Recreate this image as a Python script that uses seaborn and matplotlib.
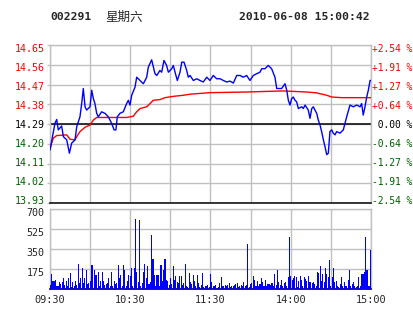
import matplotlib
matplotlib.use("Agg")
import matplotlib.pyplot as plt
import matplotlib.transforms as mtransforms
import numpy as np
import pandas as pd
import seaborn as sns

# ---------------- data ----------------
stock_code = "002291"
weekday = "星期六"
timestamp = "2010-06-08 15:00:42"
pre_close = 14.29

price_labels = ["14.65", "14.56", "14.47", "14.38", "14.29", "14.20", "14.11", "14.02", "13.93"]
pct_labels = ["+2.54 %", "+1.91 %", "+1.27 %", "+0.64 %", " 0.00 %", "-0.64 %", "-1.27 %", "-1.91 %", "-2.54 %"]
time_labels = ["09:30", "", "10:30", "", "11:30", "", "14:00", "", "15:00"]
vol_labels = ["175", "350", "525", "700"]
vol_ticks = [175, 350, 525, 700]

blue_min = [0, 3.7, 5, 6.2, 8.7, 10, 12.5, 14.5, 16.2, 18.7,
            20, 22.4, 23.7, 24.9, 26.2, 27.4, 29.9, 31.2, 32.4, 33.6,
            34.9, 36.1, 38.6, 41.1, 43.6, 46.1, 47.9, 49.3, 50.3, 52.3,
            54.8, 57.3, 58.6, 59.8, 61.1, 63.6, 64.8, 67.3, 69.8, 72.3,
            73.5, 76, 78.5, 79.8, 82.2, 83.5, 85.2, 87.2, 88.5, 91,
            92.2, 93.5, 95.2, 97.2, 98.5, 100.2, 102.2, 103.4, 104.7, 107.2,
            109.7, 112.1, 114.6, 117.2, 119.6, 122.1, 124.6, 127.1, 129.6, 132.1,
            134.6, 137.1, 139.6, 142.1, 144.5, 147, 149.5, 152, 154.5, 157,
            158.3, 160.7, 163.2, 165.7, 168.2, 169.5, 173.2, 175.7, 177, 178.2,
            179.4, 180.7, 181.9, 183.2, 184.4, 185.7, 188.2, 189.4, 190.7, 193.1,
            194.4, 195.7, 196.9, 198.1, 199.4, 200.6, 201.9, 203.1, 204.4, 205.6,
            206.9, 208.1, 209.3, 210.6, 211.8, 213.1, 214.3, 216.8, 219.3, 221.8,
            224.3, 226.8, 229.3, 231.8, 233, 234.2, 235.5, 236.8, 238, 239.3,
            240]
blue_price = [14.17, 14.293, 14.311, 14.263, 14.281, 14.232, 14.217, 14.156, 14.202, 14.217,
              14.278, 14.323, 14.384, 14.453, 14.369, 14.354, 14.369, 14.445, 14.407, 14.384,
              14.339, 14.323, 14.346, 14.339, 14.323, 14.293, 14.263, 14.263, 14.323, 14.339,
              14.346, 14.384, 14.399, 14.377, 14.422, 14.46, 14.505, 14.49, 14.475, 14.505,
              14.551, 14.585, 14.521, 14.513, 14.536, 14.528, 14.582, 14.559, 14.528, 14.544,
              14.559, 14.528, 14.49, 14.528, 14.574, 14.574, 14.536, 14.505, 14.513, 14.49,
              14.498, 14.49, 14.483, 14.505, 14.49, 14.513, 14.498, 14.498, 14.49, 14.483,
              14.487, 14.478, 14.513, 14.513, 14.505, 14.513, 14.49, 14.513, 14.521, 14.528,
              14.544, 14.544, 14.559, 14.544, 14.505, 14.453, 14.453, 14.475, 14.445, 14.399,
              14.377, 14.407, 14.414, 14.399, 14.392, 14.361, 14.369, 14.361, 14.377, 14.354,
              14.316, 14.361, 14.369, 14.354, 14.339, 14.308, 14.285, 14.255, 14.217, 14.186,
              14.149, 14.156, 14.255, 14.263, 14.248, 14.24, 14.255, 14.248, 14.263, 14.323,
              14.377, 14.369, 14.377, 14.369, 14.384, 14.331, 14.369, 14.414, 14.445, 14.49,
              14.49]

avg_min = [0, 2.5, 5, 12.5, 15, 18.7, 20, 22.4, 26.2, 29.9, 32.4, 34.9, 57.3, 62.3, 64.8,
           67.3, 72.3, 74.8, 77.2, 82.2, 86, 92.2, 99.7, 104.7, 119.6, 147, 174.4, 191.9,
           199.4, 206.9, 210.6, 218.1, 240]
avg_price = [14.179, 14.225, 14.237, 14.24, 14.22, 14.217, 14.232, 14.255, 14.275, 14.285,
             14.308, 14.32, 14.32, 14.326, 14.346, 14.361, 14.369, 14.384, 14.399, 14.402,
             14.411, 14.417, 14.422, 14.427, 14.434, 14.437, 14.442, 14.437, 14.433, 14.422,
             14.414, 14.411, 14.411]

volume = [38, 132, 74, 74, 82, 29, 29, 59, 44, 65,
          100, 35, 74, 29, 100, 141, 15, 65, 29, 74,
          35, 220, 53, 100, 182, 53, 100, 162, 44, 53,
          74, 206, 212, 162, 126, 126, 153, 29, 74, 153,
          74, 35, 41, 53, 94, 29, 153, 29, 74, 44,
          53, 212, 94, 123, 29, 212, 162, 29, 74, 123,
          118, 185, 29, 182, 611, 147, 60, 603, 29, 53,
          153, 220, 94, 197, 44, 60, 476, 259, 123, 29,
          123, 123, 29, 206, 74, 162, 259, 82, 74, 35,
          94, 44, 197, 82, 118, 59, 53, 112, 112, 35,
          53, 220, 29, 15, 141, 65, 44, 123, 74, 29,
          123, 53, 15, 35, 141, 15, 24, 24, 35, 15,
          132, 59, 24, 29, 35, 6, 20, 53, 103, 29,
          24, 35, 29, 35, 53, 15, 29, 24, 35, 44,
          53, 15, 29, 35, 29, 65, 29, 35, 397, 15,
          44, 53, 118, 82, 29, 74, 24, 44, 94, 59,
          29, 82, 29, 44, 44, 35, 53, 24, 132, 35,
          162, 65, 35, 82, 29, 53, 65, 29, 103, 453,
          112, 82, 94, 112, 103, 15, 74, 112, 82, 29,
          103, 88, 74, 112, 65, 65, 53, 59, 44, 24,
          147, 141, 197, 74, 132, 59, 188, 132, 103, 250,
          29, 103, 182, 65, 74, 29, 15, 44, 103, 24,
          65, 29, 24, 82, 170, 29, 44, 59, 29, 15,
          29, 103, 24, 132, 132, 153, 453, 162, 29, 29,
          338]
vol_minutes = list(range(len(volume)))

# ---------------- style ----------------
sns.set_theme(style="white")
plt.rcParams["font.family"] = ["DejaVu Sans Mono", "Noto Sans CJK SC"]

RED = "#ff0000"
GREEN = "#006000"
BLUE = "#0000ff"
GRID = "#c0c0c0"
FS_L = 7.2
FS_R = 6.9

W, H = 414, 314
fig = plt.figure(figsize=(W / 100, H / 100), dpi=100)
fig.patch.set_facecolor("white")


def shift(px):
    return mtransforms.ScaledTranslation(0, px / 100, fig.dpi_scale_trans)


L, R = 50, 371
ax = fig.add_axes([L / W, 1 - 203 / H, (R - L) / W, 158 / H])
axv = fig.add_axes([L / W, 1 - 289 / H, (R - L) / W, 80 / H])

# ---------------- price panel ----------------
half = pre_close * 0.0254
ax.set_xlim(0, 240)
ax.set_ylim(pre_close - half, pre_close + half)
yt = [pre_close + half - i * half / 4 for i in range(9)]
ax.set_yticks(yt)
ax.set_yticklabels(price_labels)
ax.set_xticks(range(0, 241, 30))
ax.grid(True, color=GRID, lw=1)
ax.axhline(pre_close, color="black", lw=1.1, zorder=2)

sns.lineplot(x=avg_min, y=avg_price, color=RED, lw=1.0, ax=ax, estimator=None, zorder=3)
sns.lineplot(x=blue_min, y=blue_price, color=BLUE, lw=1.0, ax=ax, estimator=None, zorder=4)
ax.set_xlabel("")
ax.set_ylabel("")
ax.tick_params(axis="x", length=0, labelbottom=False)
ax.tick_params(axis="y", length=2, width=1, color=GRID, pad=2, labelsize=FS_L)
for s in ["left", "right", "top"]:
    ax.spines[s].set_color(GRID)
    ax.spines[s].set_linewidth(1)
ax.spines["bottom"].set_color("black")
ax.spines["bottom"].set_linewidth(1.1)

ax2 = ax.twinx()
ax2.set_ylim(ax.get_ylim())
ax2.set_yticks(yt)
ax2.set_yticklabels(pct_labels)
ax2.tick_params(axis="y", length=0, pad=0.5, labelsize=FS_R)
for s in ax2.spines.values():
    s.set_visible(False)

for axis_obj, which in ((ax, "label1"), (ax2, "label2")):
    for i, tk in enumerate(axis_obj.yaxis.get_major_ticks()):
        lab = getattr(tk, which)
        lab.set_color(RED if i < 4 else ("black" if i == 4 else GREEN))
        lab.set_transform(lab.get_transform() + shift((i - 4) * 0.8))

# ---------------- volume panel ----------------
vdf = pd.DataFrame({"minute": vol_minutes, "volume": volume})
sns.barplot(data=vdf, x="minute", y="volume", native_scale=True, color=BLUE,
            saturation=1, width=0.8, linewidth=0, errorbar=None, ax=axv, zorder=3)
axv.set_xlim(0, 240)
axv.set_ylim(0, 700)
axv.set_yticks(vol_ticks)
axv.set_yticklabels(vol_labels)
axv.set_xticks(range(0, 241, 30))
axv.set_xticklabels(time_labels)
axv.grid(True, color=GRID, lw=1, zorder=0)
axv.set_axisbelow(True)
axv.set_xlabel("")
axv.set_ylabel("")
axv.tick_params(axis="y", length=2, width=1, color=GRID, pad=2, labelsize=FS_L)
axv.tick_params(axis="x", length=0, pad=4, labelsize=7.4)
for s in ["left", "right", "top"]:
    axv.spines[s].set_color(GRID)
    axv.spines[s].set_linewidth(1)
axv.spines["bottom"].set_color("black")
axv.spines["bottom"].set_linewidth(1.2)
for tk in axv.yaxis.get_major_ticks():
    lab = tk.label1
    lab.set_transform(lab.get_transform() + shift(-2.5))

# ---------------- header ----------------
yh = 1 - 17 / H
fig.text(50 / W, yh, stock_code, fontsize=8.2, fontweight="bold", va="center", ha="left",
         family=["DejaVu Sans Mono"])
fig.text(105 / W, yh, weekday, fontsize=9, va="center", ha="left",
         family=["Noto Sans CJK SC", "DejaVu Sans"])
fig.text(370 / W, yh, timestamp, fontsize=8.2, fontweight="bold", va="center", ha="right",
         family=["DejaVu Sans Mono"])

fig.savefig("out.png", dpi=100, facecolor="white")
